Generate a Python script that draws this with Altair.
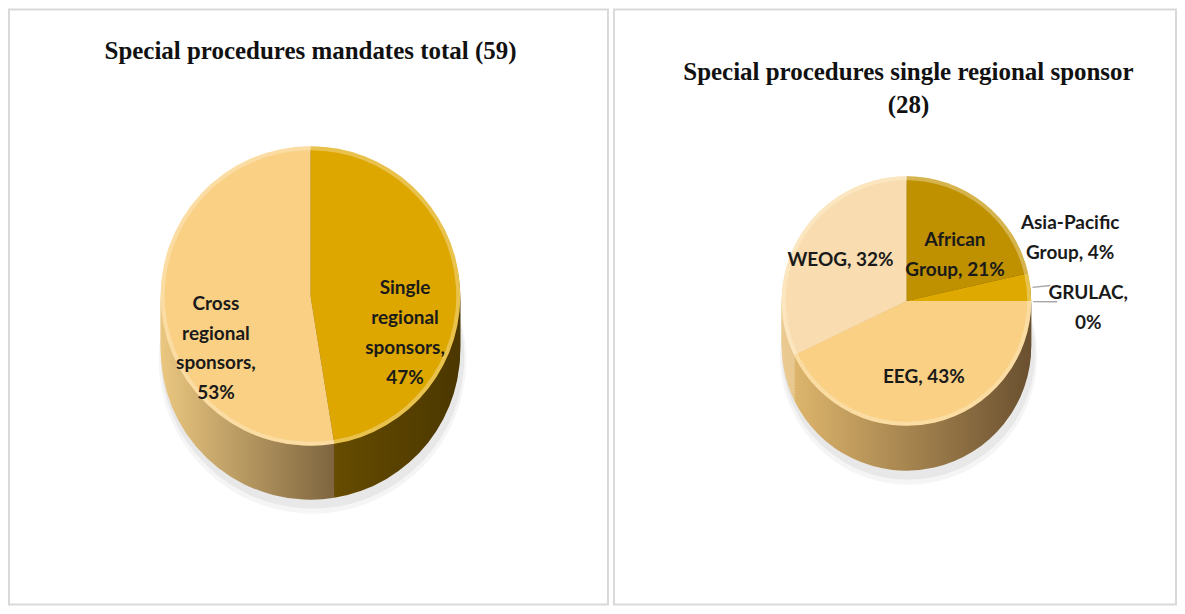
import math
import altair as alt
import pandas as pd

# ---------------- data ----------------
LEFT_TITLE = "Special procedures mandates total (59)"
left_categories = ["Single regional sponsors", "Cross regional sponsors"]
left_counts = [28, 31]
left_labels = ["Single\nregional\nsponsors,\n47%", "Cross\nregional\nsponsors,\n53%"]
left_top_colors = ["#DDA700", "#F9D084"]
left_side_colors = [["#6B5000", "#4B3700"], ["#EAC780", "#7E653F"]]

RIGHT_TITLE = "Special procedures single regional sponsor\n(28)"
right_categories = ["African Group", "Asia-Pacific Group", "GRULAC", "EEG", "WEOG"]
right_counts = [6, 1, 0, 12, 9]
right_labels = ["African\nGroup, 21%", "Asia-Pacific\nGroup, 4%", "GRULAC,\n0%", "EEG, 43%", "WEOG, 32%"]
right_top_colors = ["#BF9000", "#DEA900", "#E3B300", "#F9D084", "#F9DDB1"]
right_side_colors = [["#6A5000", "#4C3800"], ["#6B5000", "#4E3900"], ["#6B5000", "#4E3900"],
                     ["#DDB56C", "#6A5030"], ["#EBCB92", "#C9AA72"]]

LABEL_FONT = "Lato"
TITLE_FONT = "Liberation Serif"


def panel(cats, counts, labels, tops, sides, cx, cy, r, depth, label_r,
          inside_idx, outside_spec, title, tx, ty, w, h):
    df = pd.DataFrame({"cat": cats, "value": counts, "label": labels,
                       "idx": list(range(len(cats)))})
    total = sum(counts)
    base = alt.Chart(df).transform_window(
        cum="sum(value)", sort=[alt.SortField("idx")], frame=[None, 0]
    ).transform_calculate(
        start="datum.cum - datum.value",
        mid="datum.cum - datum.value / 2",
        lead2="datum.cum - datum.value / 2 + %f" % (total * 0.0016),
    )
    tscale = alt.Scale(domain=[0, total], range=[0, 2 * math.pi])
    th = alt.Theta("start:Q", scale=tscale, stack=None)
    th2 = alt.Theta2("cum:Q")
    layers = []
    # soft drop shadow under the pie
    for k, off, op in [(4, 10, 0.04), (2, 7, 0.05)]:
        layers.append(
            base.mark_arc(radius=r + k, fill="#000000", opacity=op)
            .encode(theta=th, theta2=th2, x=alt.value(cx + 2), y=alt.value(cy + depth + off))
        )
    # extruded side of the "3D" pie
    for d in range(depth, 0, -3):
        for i in range(len(cats)):
            if counts[i] == 0:
                continue
            grad = alt.LinearGradient(
                gradient="linear",
                stops=[alt.GradientStop(color=sides[i][0], offset=0),
                       alt.GradientStop(color=sides[i][1], offset=1)],
                x1=0, x2=1, y1=0, y2=0)
            layers.append(
                base.transform_filter(f"datum.idx == {i}")
                .mark_arc(fill=grad, radius=r)
                .encode(theta=th, theta2=th2, x=alt.value(cx), y=alt.value(cy + d))
            )
    # top face
    for i in range(len(cats)):
        if counts[i] == 0:
            continue
        layers.append(
            base.transform_filter(f"datum.idx == {i}")
            .mark_arc(radius=r, fill=tops[i])
            .encode(theta=th, theta2=th2, x=alt.value(cx), y=alt.value(cy))
        )
    # soft highlight rim on the top face
    layers.append(
        base.mark_arc(radius=r, radius2=r - 4, fill="#FFF6DC", opacity=0.35)
        .encode(theta=th, theta2=th2, x=alt.value(cx), y=alt.value(cy))
    )
    # inside labels
    cond = " || ".join(f"datum.idx == {i}" for i in inside_idx)
    layers.append(
        base.transform_filter(cond).mark_text(
            font=LABEL_FONT, fontWeight="bold", fontSize=19, lineBreak="\n",
            lineHeight=30, color="#1a1a1a", align="center", baseline="middle"
        ).encode(theta=alt.Theta("mid:Q", scale=tscale, stack=None),
                 radius=alt.value(label_r), text="label:N",
                 x=alt.value(cx), y=alt.value(cy))
    )
    # outside labels with leader lines
    for i, lr, lead_len, dy in outside_spec:
        sub = base.transform_filter(f"datum.idx == {i}")
        layers.append(
            sub.mark_arc(radius=r + 2, radius2=r + lead_len, fill="#A6A6A6").encode(
                theta=alt.Theta("mid:Q", scale=tscale, stack=None),
                theta2=alt.Theta2("lead2:Q"),
                x=alt.value(cx), y=alt.value(cy))
        )
        layers.append(
            sub.mark_text(
                font=LABEL_FONT, fontWeight="bold", fontSize=19, lineBreak="\n",
                lineHeight=30, color="#1a1a1a", align="center", baseline="middle", dy=dy
            ).encode(theta=alt.Theta("mid:Q", scale=tscale, stack=None),
                     radius=alt.value(lr), text="label:N",
                     x=alt.value(cx), y=alt.value(cy))
        )
    # title inside the bordered panel
    layers.append(
        alt.Chart(pd.DataFrame({"t": [title]})).mark_text(
            font=TITLE_FONT, fontWeight="bold", fontSize=25, lineBreak="\n",
            lineHeight=33, color="#111111", align="center", baseline="middle"
        ).encode(text="t:N", x=alt.value(tx), y=alt.value(ty))
    )
    return alt.layer(*layers).properties(width=w, height=h)


left = panel(left_categories, left_counts, left_labels, left_top_colors, left_side_colors,
             cx=302, cy=287, r=150, depth=54, label_r=95,
             inside_idx=[0, 1], outside_spec=[],
             title=LEFT_TITLE, tx=302, ty=42, w=600, h=596)

right = panel(right_categories, right_counts, right_labels, right_top_colors, right_side_colors,
              cx=293, cy=292, r=125, depth=45, label_r=78,
              inside_idx=[0, 3, 4],
              outside_spec=[(1, 165, 20, -60), (2, 182, 26, -8)],
              title=RIGHT_TITLE, tx=295, ty=63, w=563, h=596)

chart = alt.hconcat(left, right, spacing=4, padding=0).resolve_scale(
    theta="independent", color="independent"
).configure_view(stroke="#D9D9D9", strokeWidth=2)

chart.save("out.html", embed_options={"renderer": "svg", "actions": False})
